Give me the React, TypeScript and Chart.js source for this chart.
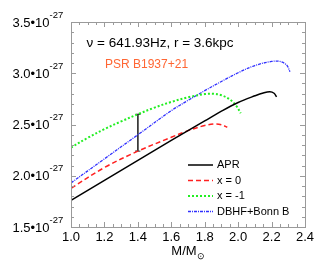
import React, { useEffect, useRef } from "react";
import { Chart, registerables } from "chart.js";

Chart.register(...registerables);

const massAPR = [1.0, 1.2, 1.4, 1.6, 1.8, 1.9, 2.0, 2.1, 2.15, 2.19, 2.215, 2.23];
const hAPR = [1.76, 1.955, 2.15, 2.345, 2.535, 2.63, 2.715, 2.78, 2.808, 2.82, 2.805, 2.77];

const massX0 = [1.0, 1.2, 1.4, 1.6, 1.7, 1.8, 1.86, 1.9, 1.935];
const hX0 = [1.878, 2.08, 2.24, 2.375, 2.44, 2.49, 2.505, 2.498, 2.473];

const massXm1 = [1.0, 1.1, 1.2, 1.3, 1.4, 1.5, 1.6, 1.7, 1.8, 1.85, 1.9, 1.95, 1.99, 2.015];
const hXm1 = [2.275, 2.37, 2.455, 2.53, 2.6, 2.665, 2.72, 2.765, 2.797, 2.8, 2.785, 2.745, 2.68, 2.61];

const massDB = [1.0, 1.2, 1.4, 1.6, 1.7, 1.8, 1.9, 2.0, 2.1, 2.2, 2.25, 2.29, 2.31];
const hDB = [1.93, 2.165, 2.4, 2.635, 2.735, 2.83, 2.92, 3.005, 3.075, 3.115, 3.115, 3.08, 3.015];

const errMass = 1.4;
const errLow = 2.24;
const errHigh = 2.6;
const errCap = 0.015;

const seriesNames = ["APR", "x = 0", "x = -1", "DBHF+Bonn B"];
const xTicks = [1.0, 1.2, 1.4, 1.6, 1.8, 2.0, 2.2, 2.4];
const yTicks = [1.5, 2.0, 2.5, 3.0, 3.5];
const yExponent = "-27";
const annotation1 = "ν = 641.93Hz, r = 3.6kpc";
const annotation2 = "PSR B1937+21";

const FONT = "'Liberation Sans', Arial, Helvetica, sans-serif";

const zip = (xs: number[], ys: number[]) => xs.map((x, i) => ({ x, y: ys[i] }));

const decorPlugin = {
  id: "decor",
  afterDraw(chart: any) {
    const ctx = chart.ctx;
    const xs = chart.scales.x;
    const ys = chart.scales.y;
    const a = chart.chartArea;
    ctx.save();
    // frame
    ctx.strokeStyle = "#9a9a9a";
    ctx.lineWidth = 1;
    ctx.strokeRect(Math.round(a.left) + 0.5, Math.round(a.top) + 0.5, Math.round(a.right - a.left), Math.round(a.bottom - a.top));
    // ticks
    ctx.beginPath();
    for (let i = 0; i <= 28; i++) {
      const v = 1.0 + i * 0.05;
      const px = Math.round(xs.getPixelForValue(v)) + 0.5;
      const len = i % 4 === 0 ? 5 : 3;
      ctx.moveTo(px, a.bottom);
      ctx.lineTo(px, a.bottom - len);
      ctx.moveTo(px, a.top);
      ctx.lineTo(px, a.top + len);
    }
    for (let i = 0; i <= 20; i++) {
      const v = 1.5 + i * 0.1;
      const py = Math.round(ys.getPixelForValue(v)) + 0.5;
      const len = i % 5 === 0 ? 5 : 3;
      ctx.moveTo(a.left, py);
      ctx.lineTo(a.left + len, py);
      ctx.moveTo(a.right, py);
      ctx.lineTo(a.right - len, py);
    }
    ctx.stroke();

    // y tick labels with superscripts
    ctx.fillStyle = "#000";
    ctx.textBaseline = "alphabetic";
    yTicks.forEach((v) => {
      const py = ys.getPixelForValue(v);
      ctx.font = `13px ${FONT}`;
      ctx.textAlign = "right";
      ctx.fillText(v.toFixed(1) + "•10", 49.5, py + 4.5);
      ctx.font = `9.5px ${FONT}`;
      ctx.textAlign = "left";
      ctx.fillText(yExponent, 49.5, py - 4.5);
    });

    // x tick labels
    ctx.font = `13px ${FONT}`;
    ctx.textAlign = "center";
    xTicks.forEach((v) => {
      ctx.fillText(v.toFixed(1), xs.getPixelForValue(v), 241);
    });

    // x title M/M_sun
    const cx = (a.left + a.right) / 2;
    ctx.font = `13px ${FONT}`;
    const w1 = ctx.measureText("M/M").width;
    ctx.font = `9px ${FONT}`;
    const w2 = ctx.measureText("⊙").width;
    const start = cx - (w1 + w2) / 2;
    ctx.font = `13px ${FONT}`;
    ctx.textAlign = "left";
    ctx.fillText("M/M", start, 255);
    ctx.font = `9px ${FONT}`;
    ctx.fillText("⊙", start + w1, 259);

    // annotations
    ctx.font = `13.5px ${FONT}`;
    ctx.fillStyle = "#000";
    ctx.textBaseline = "middle";
    ctx.fillText(annotation1, 86.5, 43);
    ctx.font = `12px ${FONT}`;
    ctx.fillStyle = "#ff6633";
    ctx.fillText(annotation2, 105, 65);

    // legend
    const rows = [165, 180.5, 196, 211.5];
    chart.data.datasets.forEach((ds: any, i: number) => {
      if (i >= seriesNames.length) return;
      const y = rows[i];
      ctx.beginPath();
      ctx.strokeStyle = ds.borderColor;
      ctx.lineWidth = ds.borderWidth;
      ctx.setLineDash(ds.borderDash || []);
      ctx.moveTo(188, y);
      ctx.lineTo(213, y);
      ctx.stroke();
      ctx.setLineDash([]);
      ctx.fillStyle = "#000";
      ctx.font = `11px ${FONT}`;
      ctx.textBaseline = "middle";
      ctx.fillText(seriesNames[i], 217, y);
    });
    ctx.restore();
  },
};

export default function App() {
  const ref = useRef<HTMLCanvasElement>(null);
  useEffect(() => {
    document.body.style.margin = "0";
    const canvas = ref.current!;
    const common = { pointRadius: 0, fill: false, tension: 0.35 };
    const chart = new Chart(canvas, {
      type: "line",
      data: {
        datasets: [
          { ...common, label: seriesNames[0], data: zip(massAPR, hAPR), borderColor: "#000000", borderWidth: 1.5, borderDash: [] },
          { ...common, label: seriesNames[1], data: zip(massX0, hX0), borderColor: "#ff2020", borderWidth: 1.5, borderDash: [5, 3] },
          { ...common, label: seriesNames[2], data: zip(massXm1, hXm1), borderColor: "#22ee22", borderWidth: 2, borderDash: [2, 2] },
          { ...common, label: seriesNames[3], data: zip(massDB, hDB), borderColor: "#3030ff", borderWidth: 1.3, borderDash: [3, 1, 1, 1] },
          {
            ...common,
            tension: 0,
            label: "err",
            data: [
              { x: errMass - errCap, y: errHigh },
              { x: errMass + errCap, y: errHigh },
              { x: errMass, y: errHigh },
              { x: errMass, y: errLow },
              { x: errMass - errCap, y: errLow },
              { x: errMass + errCap, y: errLow },
            ],
            borderColor: "#333333",
            borderWidth: 1,
          },
        ],
      },
      options: {
        animation: false,
        responsive: false,
        maintainAspectRatio: false,
        layout: { padding: { top: 22, right: 22, left: 0, bottom: 0 } },
        plugins: { legend: { display: false }, tooltip: { enabled: false } },
        scales: {
          x: {
            type: "linear",
            min: 1.0,
            max: 2.4,
            afterBuildTicks: (s: any) => {
              s.ticks = xTicks.map((v) => ({ value: v }));
            },
            ticks: { display: false },
            grid: { display: false },
            border: { display: false },
            afterFit: (s: any) => {
              s.height = 46;
            },
          },
          y: {
            type: "linear",
            min: 1.5,
            max: 3.5,
            afterBuildTicks: (s: any) => {
              s.ticks = yTicks.map((v) => ({ value: v }));
            },
            ticks: { display: false },
            grid: { display: false },
            border: { display: false },
            afterFit: (s: any) => {
              s.width = 71;
            },
          },
        },
      } as any,
      plugins: [decorPlugin],
    });
    return () => chart.destroy();
  }, []);
  return <canvas ref={ref} width={327} height={273} style={{ display: "block" }} />;
}
